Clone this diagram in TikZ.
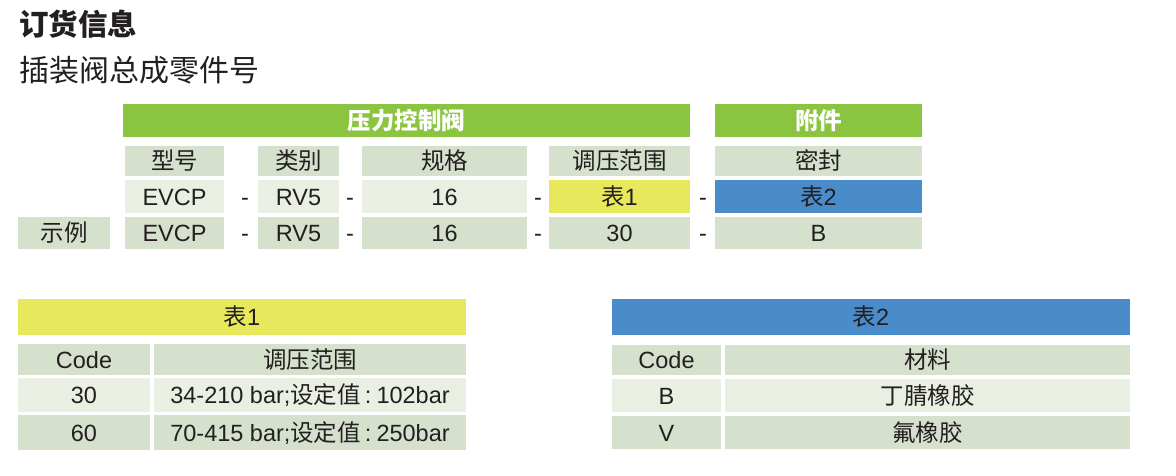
\documentclass[tikz,border=0pt]{standalone}
\usepackage{fontspec}
\setmainfont{Liberation Sans}
\newfontfamily\cjk{Noto Sans CJK SC}
\definecolor{ink}{RGB}{35,31,32}
\definecolor{leaf}{RGB}{138,196,64}
\definecolor{sage}{RGB}{214,225,205}
\definecolor{mist}{RGB}{233,239,227}
\definecolor{lemon}{RGB}{232,232,92}
\definecolor{sky}{RGB}{74,139,201}
\def \cellfont {\fontsize{23.5}{28}\selectfont}
\tikzstyle{cell} = [rectangle,inner sep=0,outer sep=0,anchor=north west,text height=17pt,text depth=0pt,text=ink,font=\cellfont]
\tikzstyle{head} = [cell,fill=leaf,text=white]
\tikzstyle{mid} = [cell,fill=sage]
\tikzstyle{pale} = [cell,fill=mist]
\tikzstyle{yel} = [cell,fill=lemon]
\tikzstyle{blu} = [cell,fill=sky]
\tikzstyle{hyph} = [inner sep=0,text height=17pt,text depth=0pt,text=ink,font=\cellfont]
\def \rh {33pt}
\def \colon {\hspace{4pt}:\hspace{5pt}}

\begin{document}
\begin{tikzpicture}[x=1pt,y=-1pt]
      \useasboundingbox (0,0) rectangle (1176,475);
      % titles
      \node[anchor=west,inner sep=0,text=ink,font=\fontsize{29.5}{34}\selectfont\cjk\bfseries] (title) at (19,24) {订货信息};
      \node[anchor=west,inner sep=0,text=ink,font=\fontsize{30}{35}\selectfont\cjk] (sub) at (19,70) {插装阀总成零件号};
      % part number
      \node[head,minimum width=567pt,minimum height=\rh] (ctrl) at (123,104) {\cjk\bfseries 压力控制阀};
      \node[head,minimum width=207pt,minimum height=\rh] (acc) at (715,104) {\cjk\bfseries 附件};
      \node[mid,minimum width=99pt,minimum height=30pt] (typ) at (125,146) {\cjk 型号};
      \node[mid,minimum width=81pt,minimum height=30pt] (cls) at (258,146) {\cjk 类别};
      \node[mid,minimum width=165pt,minimum height=30pt] (spec) at (362,146) {\cjk 规格};
      \node[mid,minimum width=141pt,minimum height=30pt] (rng) at (549,146) {\cjk 调压范围};
      \node[mid,minimum width=207pt,minimum height=30pt] (seal) at (715,146) {\cjk 密封};
      \node[pale,minimum width=99pt,minimum height=\rh] (evcp) at (125,180) {EVCP};
      \node[pale,minimum width=81pt,minimum height=\rh] (rv) at (258,180) {RV5};
      \node[pale,minimum width=165pt,minimum height=\rh] (sz) at (362,180) {16};
      \node[yel,minimum width=141pt,minimum height=\rh] (tb1) at (549,180) {{\cjk 表}1};
      \node[blu,minimum width=207pt,minimum height=\rh] (tb2) at (715,180) {{\cjk 表}2};
      \node[mid,minimum width=92pt,minimum height=32pt] (ex) at (18,217) {\cjk 示例};
      \node[mid,minimum width=99pt,minimum height=32pt] (exevcp) at (125,217) {EVCP};
      \node[mid,minimum width=81pt,minimum height=32pt] (exrv) at (258,217) {RV5};
      \node[mid,minimum width=165pt,minimum height=32pt] (exsz) at (362,217) {16};
      \node[mid,minimum width=141pt,minimum height=32pt] (exrng) at (549,217) {30};
      \node[mid,minimum width=207pt,minimum height=32pt] (exseal) at (715,217) {B};
      \node[hyph] (d1) at (245,196.5) {-};
      \node[hyph] (d2) at (350,196.5) {-};
      \node[hyph] (d3) at (538,196.5) {-};
      \node[hyph] (d4) at (703,196.5) {-};
      \node[hyph] (e1) at (245,233) {-};
      \node[hyph] (e2) at (350,233) {-};
      \node[hyph] (e3) at (538,233) {-};
      \node[hyph] (e4) at (703,233) {-};
      % table 1
      \node[yel,minimum width=448pt,minimum height=36pt] (t1) at (18,299) {{\cjk 表}1};
      \node[mid,minimum width=132pt,minimum height=31pt] (t1code) at (18,344) {Code};
      \node[mid,minimum width=312pt,minimum height=31pt] (t1rng) at (154,344) {\cjk 调压范围};
      \node[pale,minimum width=132pt,minimum height=34pt] (t1c30) at (18,378) {30};
      \node[pale,minimum width=312pt,minimum height=34pt] (t1r30) at (154,378) {34-210 bar;{\cjk 设定值}\colon 102bar};
      \node[mid,minimum width=132pt,minimum height=35pt] (t1c60) at (18,415) {60};
      \node[mid,minimum width=312pt,minimum height=35pt] (t1r60) at (154,415) {70-415 bar;{\cjk 设定值}\colon 250bar};
      % table 2
      \node[blu,minimum width=518pt,minimum height=36pt] (t2) at (612,299) {{\cjk 表}2};
      \node[mid,minimum width=109pt,minimum height=30pt] (t2code) at (612,345) {Code};
      \node[mid,minimum width=405pt,minimum height=30pt] (t2mat) at (725,345) {\cjk 材料};
      \node[pale,minimum width=109pt,minimum height=\rh] (t2cb) at (612,379) {B};
      \node[pale,minimum width=405pt,minimum height=\rh] (t2mb) at (725,379) {\cjk 丁腈橡胶};
      \node[mid,minimum width=109pt,minimum height=\rh] (t2cv) at (612,416) {V};
      \node[mid,minimum width=405pt,minimum height=\rh] (t2mv) at (725,416) {\cjk 氟橡胶};
    \end{tikzpicture}
\end{document}
